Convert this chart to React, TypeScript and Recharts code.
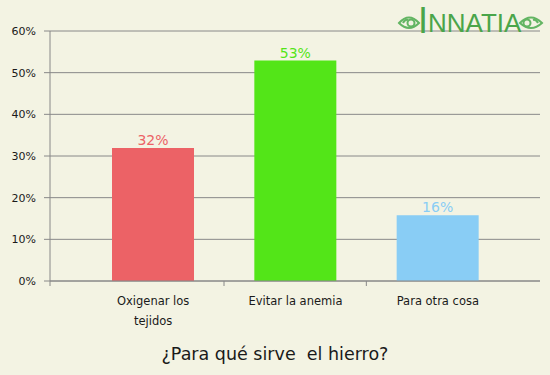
import React from 'react';
import { BarChart, Bar, XAxis, YAxis, CartesianGrid, LabelList, Cell } from 'recharts';

const categories = ['Oxigenar los tejidos', 'Evitar la anemia', 'Para otra cosa'];
const values = [31.9, 52.9, 15.8];
const colors = ['#ec6266', '#53e518', '#89cdf5'];
const yTicks = [0, 10, 20, 30, 40, 50, 60];
const title = '¿Para qué sirve  el hierro?';

const data = categories.map((name, i) => ({ name, value: values[i], color: colors[i] }));

const FONT = '"DejaVu Sans", sans-serif';
const AXIS_Y = 281;
const PLOT_LEFT = 50;
const HALF_BAND = 71.5;

const wrapLabel = (s: string, max: number) => {
  const words = s.split(' ');
  const lines: string[] = [];
  let cur = '';
  words.forEach((w) => {
    const next = cur ? cur + ' ' + w : w;
    if (next.length > max && cur) {
      lines.push(cur);
      cur = w;
    } else cur = next;
  });
  if (cur) lines.push(cur);
  return lines;
};

const XTick = (props: any) => {
  const { x, payload, index } = props;
  const lines = wrapLabel(String(payload.value), 16);
  const tx = index === 0 ? PLOT_LEFT : x - HALF_BAND;
  return (
    <g>
      <line x1={tx} x2={tx} y1={AXIS_Y} y2={AXIS_Y + 5} stroke="#888" />
      {lines.map((l, i) => (
        <text
          key={i}
          x={x}
          y={AXIS_Y + 24 + i * 20}
          textAnchor="middle"
          fontSize={11.5}
          fontFamily={FONT}
          fill="#1a1a1a"
        >
          {l}
        </text>
      ))}
    </g>
  );
};

const LOGO_GREEN = '#4aa54a';

const Logo = () => (
  <svg width={160} height={42} style={{ position: 'absolute', left: 390, top: 0 }}>
    <g fill="none" stroke="#63b563" strokeWidth={2}>
      <path d="M9 23 Q19 12 29 23 Q19 33 9 23 Z" />
      <circle cx={21} cy={23} r={3.5} />
      <path d="M13 23 Q15 19 18 20" />
      <path d="M130 23 Q141 12 152 23 Q141 33 130 23 Z" />
      <circle cx={137} cy={23} r={3.5} />
      <path d="M148 23 Q146 19 143 20" />
    </g>
    <text x={28} y={33} fontFamily='"Liberation Sans", sans-serif' fill={LOGO_GREEN}>
      <tspan fontSize={36}>I</tspan>
      <tspan fontSize={26} dy={-1} dx={0}>NNATIA</tspan>
    </text>
  </svg>
);

export default function App() {
  return (
    <div
      style={{
        position: 'absolute',
        left: 0,
        top: 0,
        width: 550,
        height: 375,
        background: '#f3f3e3',
        fontFamily: FONT,
      }}
    >
      <BarChart
        width={550}
        height={375}
        data={data}
        margin={{ top: 31, right: 10, left: 0, bottom: 34 }}
      >
        <CartesianGrid vertical={false} stroke="#888" />
        <XAxis
          dataKey="name"
          stroke="#888"
          tickLine={false}
          tick={<XTick />}
          height={60}
          padding={{ left: 32, right: 31 }}
          interval={0}
        />
        <YAxis
          domain={[0, 60]}
          ticks={yTicks}
          width={50}
          stroke="#888"
          tickSize={6}
          tickMargin={8}
          tickFormatter={(v) => `${v}%`}
          tick={{ fill: '#1a1a1a', fontSize: 11, fontFamily: FONT }}
        />
        <Bar dataKey="value" barSize={82} isAnimationActive={false}>
          {data.map((d) => (
            <Cell key={d.name} fill={d.color} />
          ))}
          <LabelList
            dataKey="value"
            position="top"
            offset={4}
            content={(p: any) => (
              <text
                x={p.x + p.width / 2}
                y={p.y - 3}
                textAnchor="middle"
                fontSize={14}
                fontFamily={FONT}
                fill={colors[p.index]}
              >
                {`${Math.round(p.value)}%`}
              </text>
            )}
          />
        </Bar>
      </BarChart>
      <div
        style={{
          position: 'absolute',
          left: 0,
          width: 550,
          top: 344,
          textAlign: 'center',
          fontSize: 17.5,
          color: '#1a1a1a',
          whiteSpace: 'pre',
        }}
      >
        {title}
      </div>
      <Logo />
    </div>
  );
}
